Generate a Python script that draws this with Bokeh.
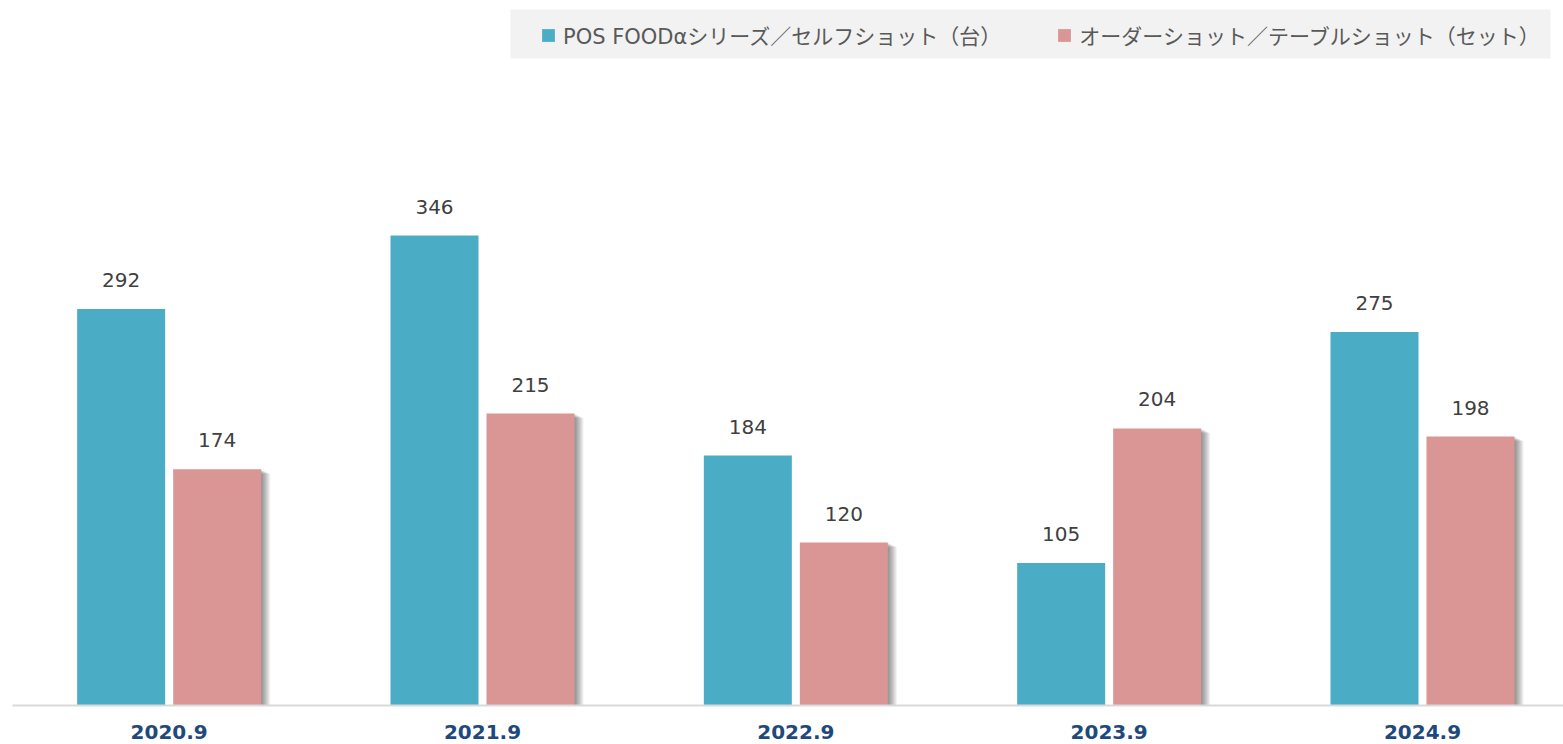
from bokeh.plotting import figure
from bokeh.models import Range1d, FixedTicker, Legend, LegendItem, BoxAnnotation
from bokeh.core.properties import value
from bokeh.embed import file_html
from bokeh.resources import INLINE

categories = ["2020.9", "2021.9", "2022.9", "2023.9", "2024.9"]
pos_food = [292, 346, 184, 105, 275]
order_shot = [174, 215, 120, 204, 198]
series_names = ["POS FOODαシリーズ／セルフショット（台）", "オーダーショット／テーブルショット（セット）"]

TEAL = "#4BACC6"
PINK = "#D99694"

px_per_x = 1551 / 4.95
px_per_y = 705 / 519.1

idx = list(range(len(categories)))
bw = 88 / px_per_x
off = 48 / px_per_x
x_pos = [i - off for i in idx]
x_ord = [i + off for i in idx]

p = figure(width=1563, height=744, x_range=Range1d(-0.5, 4.45), y_range=Range1d(0, 519.1),
           output_backend="svg", toolbar_location=None, y_axis_location=None,
           min_border_left=12, min_border_right=0, min_border_top=0, min_border_bottom=39)
p.outline_line_color = None
p.xgrid.visible = False
p.ygrid.visible = False
p.background_fill_color = "white"

# soft shadow behind the second series
for k in range(1, 10):
    dx = k / px_per_x
    dy = (k * 0.5) / px_per_y
    p.vbar(x=[x + dx for x in x_ord], top=[v - dy for v in order_shot], bottom=0, width=bw,
           fill_color="black", fill_alpha=0.055, line_color=None)

r1 = p.vbar(x=x_pos, top=pos_food, width=bw, fill_color=TEAL, line_color=None)
r2 = p.vbar(x=x_ord, top=order_shot, width=bw, fill_color=PINK, line_color=None)

for xs, vals in ((x_pos, pos_food), (x_ord, order_shot)):
    p.text(x=xs, y=vals, text=[str(v) for v in vals], text_align="center",
           text_baseline="alphabetic", y_offset=-29, text_font=value("DejaVu Sans"),
           text_font_size="20px", text_color="#404040")

ax = p.xaxis[0]
ax.ticker = FixedTicker(ticks=idx)
ax.major_label_overrides = {i: c for i, c in zip(idx, categories)}
ax.major_tick_line_color = None
ax.minor_tick_line_color = None
ax.axis_line_color = "#D9D9D9"
ax.axis_line_width = 2
ax.major_label_standoff = 13
ax.major_label_text_font = "DejaVu Sans"
ax.major_label_text_font_style = "bold"
ax.major_label_text_font_size = "20px"
ax.major_label_text_color = "#1F497D"

legend_bg = BoxAnnotation(left=510, right=1550, top=9, bottom=58,
                          left_units="canvas", right_units="canvas",
                          top_units="canvas", bottom_units="canvas",
                          fill_color="#F2F2F2", fill_alpha=1.0, line_color=None)
p.add_layout(legend_bg)

legend = Legend(items=[LegendItem(label=series_names[0], renderers=[r1]),
                       LegendItem(label=series_names[1], renderers=[r2])],
                orientation="horizontal", location=(528, 655), margin=0, padding=12,
                spacing=55, label_standoff=7, glyph_width=16, glyph_height=16,
                label_text_font="DejaVu Sans, Noto Sans CJK JP", label_text_font_size="21px",
                label_text_color="#595959", background_fill_alpha=0.0, border_line_color=None)
p.add_layout(legend)

open("out.html", "w").write(file_html(p, INLINE))
